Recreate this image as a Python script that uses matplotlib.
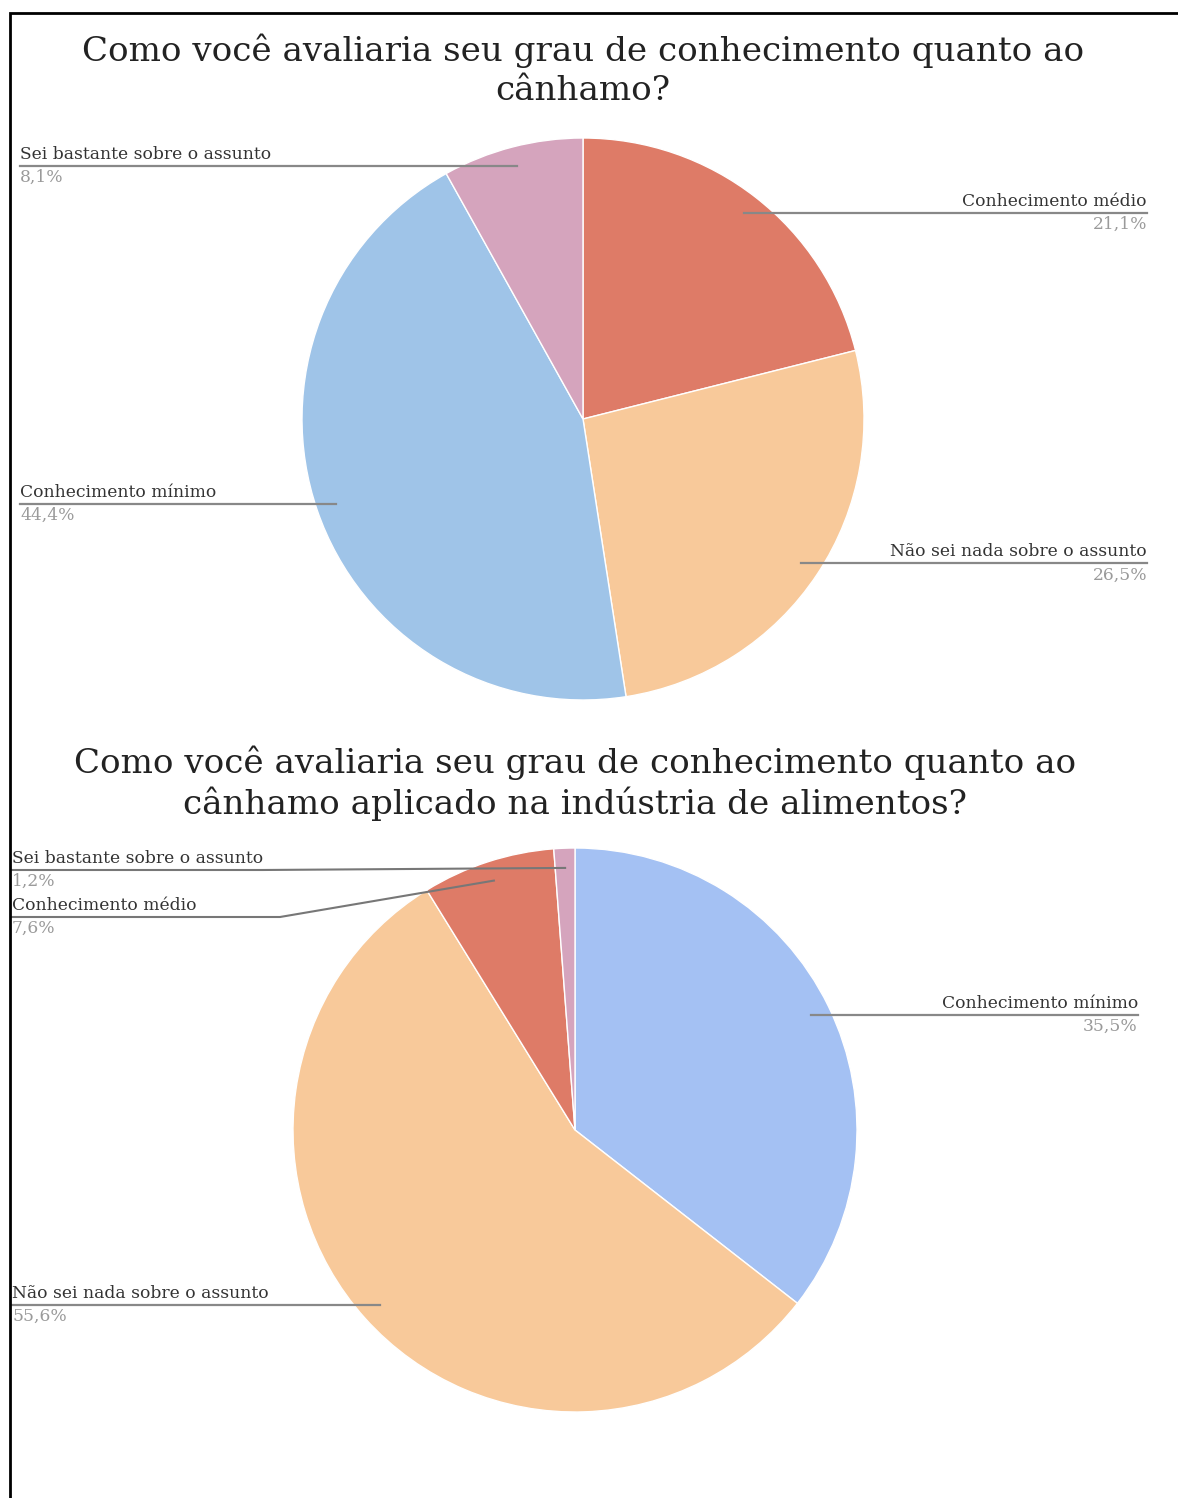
import numpy as np
import matplotlib.pyplot as plt

# survey answers, clockwise from 12 o'clock
q1_title = "Como você avaliaria seu grau de conhecimento quanto ao\ncânhamo?"
q1_labels = ["Conhecimento médio", "Não sei nada sobre o assunto",
             "Conhecimento mínimo", "Sei bastante sobre o assunto"]
q1_values = [21.1, 26.5, 44.4, 8.1]
q1_colors = ["#DE7B67", "#F8C99A", "#9FC4E8", "#D5A4BD"]

q2_title = ("Como você avaliaria seu grau de conhecimento quanto ao\n"
            "cânhamo aplicado na indústria de alimentos?")
q2_labels = ["Conhecimento mínimo", "Não sei nada sobre o assunto",
             "Conhecimento médio", "Sei bastante sobre o assunto"]
q2_values = [35.5, 55.6, 7.6, 1.2]
q2_colors = ["#A4C1F3", "#F8C99A", "#DE7B67", "#D5A4BD"]

W, H = 1178, 1498
SERIF = "DejaVu Serif"

fig = plt.figure(figsize=(W / 100, H / 100), dpi=100)
ax = fig.add_axes([0, 0, 1, 1])
ax.set_axis_off()


def reset_limits():
    ax.set_xlim(0, W)
    ax.set_ylim(0, H)
    ax.set_aspect("auto")


def pct(v):
    return f"{v:.1f}%".replace(".", ",")


def draw_pie(values, colors, labels, title, cx, cy, r, title_y,
             left_x, right_x, stacked=None):
    # cy and all y values are given in pixels from the top
    wedges, _ = ax.pie(values, colors=colors, startangle=90, counterclock=False,
                       center=(cx, H - cy), radius=r, normalize=True,
                       wedgeprops=dict(edgecolor="white", linewidth=1))
    reset_limits()
    ax.text(cx, H - title_y, title, ha="center", va="top", fontsize=24.6,
            family=SERIF, color="#222222", linespacing=1.25)
    stacked = stacked or {}
    for w, lab, v in zip(wedges, labels, values):
        mid = np.deg2rad((w.theta1 + w.theta2) / 2)
        ax_x = cx + 0.93 * r * np.cos(mid)
        ax_y = (H - cy) + 0.93 * r * np.sin(mid)
        left = ax_x < cx
        x0 = left_x if left else right_x
        ha = "left" if left else "right"
        if lab in stacked:
            ly_px, knee = stacked[lab]
            ly = H - ly_px
            ax.plot([x0, knee, ax_x], [ly, ly, ax_y], color="#777777", lw=1.5)
        else:
            ly = ax_y
            ax.plot([x0, ax_x], [ly, ax_y], color="#888888", lw=1.6)
        ax.text(x0, ly + 3, lab, ha=ha, va="bottom", fontsize=12.3,
                family=SERIF, color="#333333")
        ax.text(x0, ly - 3, pct(v), ha=ha, va="top", fontsize=12.3,
                family=SERIF, color="#9a9a9a")


draw_pie(q1_values, q1_colors, q1_labels, q1_title, 583, 419, 281, 34,
         20, 1147)
# two thin slices share the upper-left corner, so their labels are stacked
draw_pie(q2_values, q2_colors, q2_labels, q2_title, 575, 1130, 282, 745,
         12, 1138, stacked={"Sei bastante sobre o assunto": (870, 262),
                            "Conhecimento médio": (917, 280)})
reset_limits()

# frame around the page
ax.plot([10, 10, W], [0, H - 13, H - 13], color="black", lw=2,
        solid_joinstyle="miter")

fig.savefig("out.png", dpi=100)
